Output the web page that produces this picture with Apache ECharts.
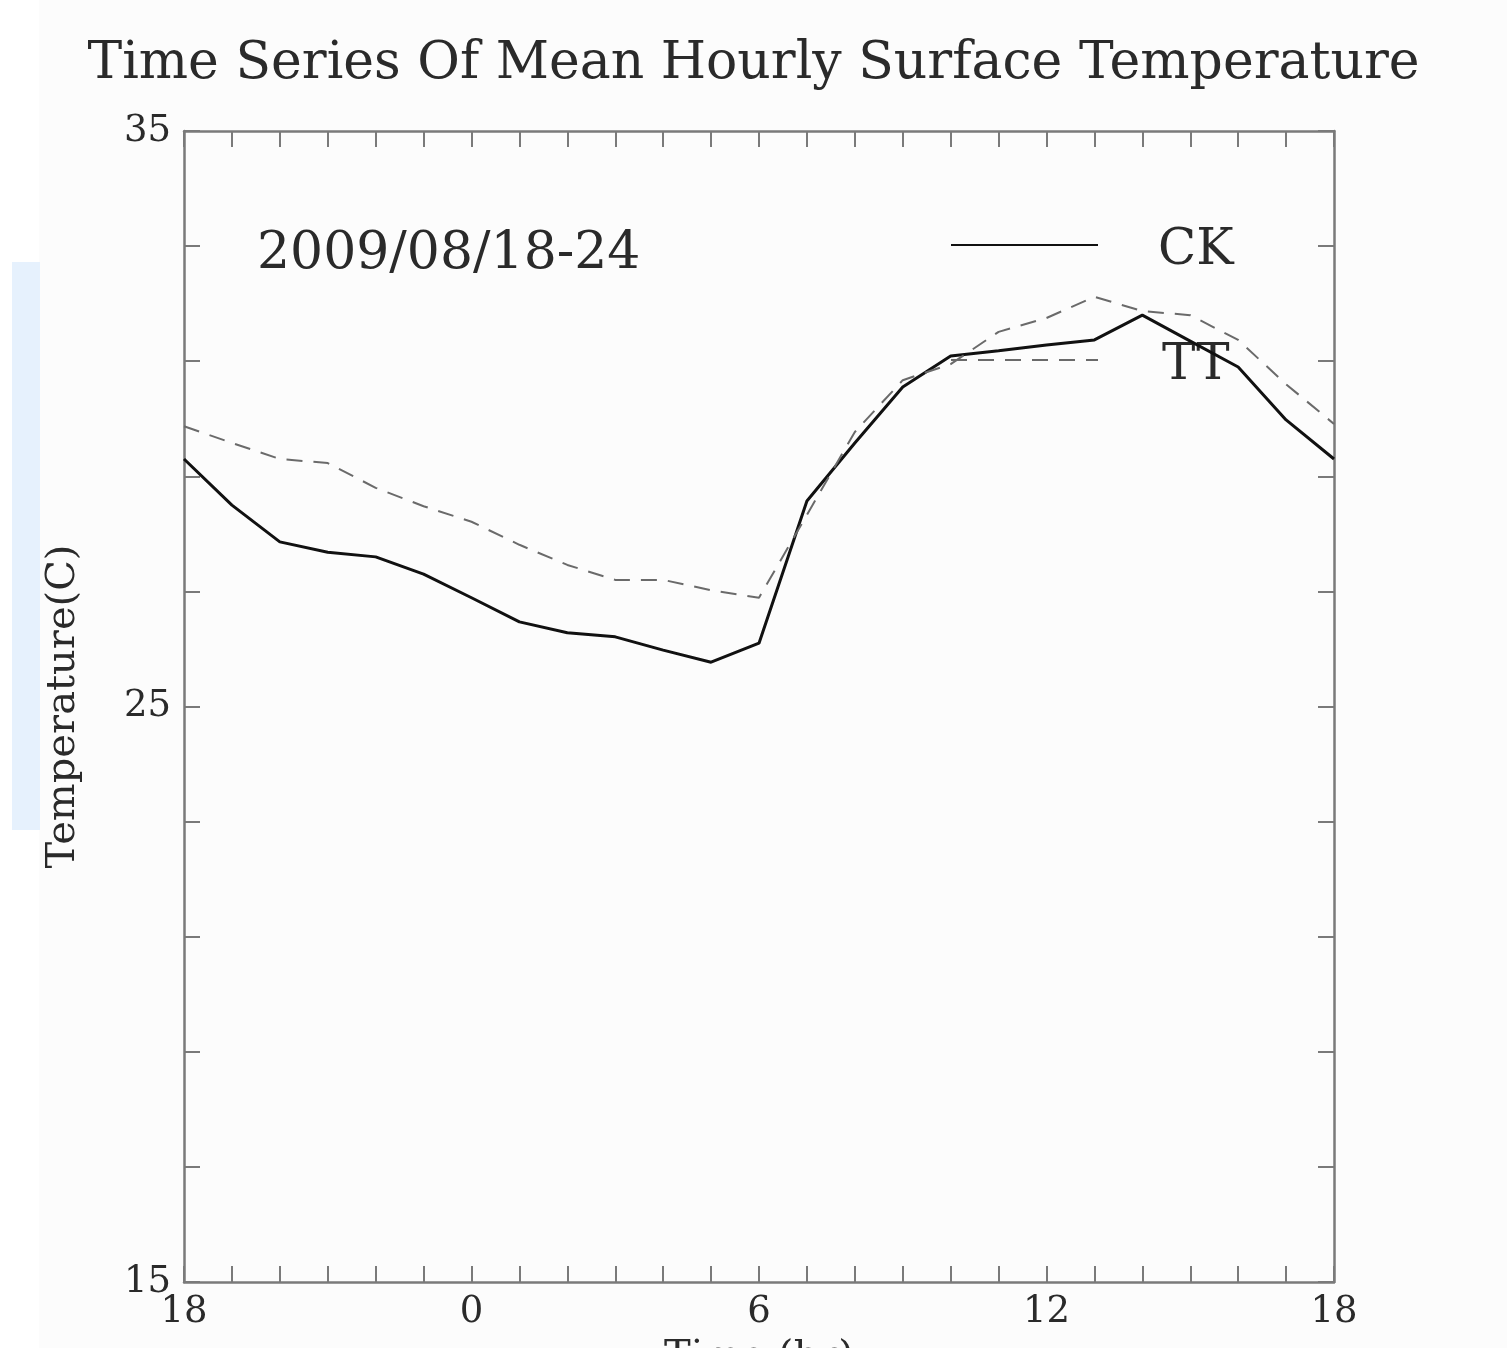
<!DOCTYPE html>
<html>
<head>
<meta charset="utf-8">
<title>Time Series Of Mean Hourly Surface Temperature</title>
<script src="https://cdn.jsdelivr.net/npm/echarts@6/dist/echarts.min.js"></script>
<style>
  html, body { margin: 0; padding: 0; background: #fff; }
  #chart { width: 1507px; height: 1348px; }
</style>
</head>
<body>
<div id="chart"></div>
<script>
// hours from 18 of one day to 18 of the next
const hours = ['18', '19', '20', '21', '22', '23', '0', '1', '2', '3', '4', '5', '6',
  '7', '8', '9', '10', '11', '12', '13', '14', '15', '16', '17', '18'];

// mean hourly surface temperature (C)
const ckTemps = [29.30, 28.50, 27.86, 27.68, 27.60, 27.30, 26.89, 26.47, 26.28, 26.21,
  25.98, 25.77, 26.10, 28.57, 29.58, 30.55, 31.09, 31.18, 31.28, 31.37,
  31.80, 31.35, 30.90, 29.98, 29.30];
const ttTemps = [29.87, 29.58, 29.30, 29.23, 28.80, 28.48, 28.21, 27.81, 27.46, 27.20,
  27.20, 27.02, 26.89, 28.33, 29.77, 30.67, 30.95, 31.51, 31.75, 32.12,
  31.87, 31.80, 31.37, 30.60, 29.91];

// only these y values get a label
const yTickLabels = [15, 25, 35];

const serif = 'DejaVu Serif';
const axisGray = '#7a7a7a';
const textColor = '#2a2a2a';

const chart = echarts.init(document.getElementById('chart'));

const tickStyle = { show: true, inside: true, length: 16, lineStyle: { color: axisGray, width: 2 } };

// legend line sample only; the name is written separately, further right
function legendEntry(name, top) {
  return {
    data: [name],
    left: 950,
    top: top,
    padding: 0,
    itemWidth: 147,
    itemHeight: 60,
    itemStyle: { opacity: 0 },
    formatter: () => ''
  };
}

function label(text, left, top, size) {
  return { type: 'text', left: left, top: top, style: { text: text, font: size + 'px "' + serif + '"', fill: textColor } };
}

const option = {
  backgroundColor: '#fcfcfc',
  animation: false,
  title: {
    text: 'Time Series Of Mean Hourly Surface Temperature',
    left: 'center',
    top: 33,
    textStyle: { fontFamily: serif, fontSize: 52, fontWeight: 'normal', color: textColor }
  },
  grid: { left: 184, right: 173, top: 131, bottom: 66, outerBoundsMode: 'none', containLabel: false },
  legend: [legendEntry('CK', 215), legendEntry('TT', 330)],
  graphic: [
    { type: 'rect', left: 0, top: 0, shape: { width: 39, height: 1348 }, style: { fill: '#ffffff' }, silent: true },
    { type: 'rect', left: 12, top: 262, shape: { width: 28, height: 568 }, style: { fill: '#e6f1fd' }, silent: true },
    label('2009/08/18-24', 257, 228, 52),
    label('CK', 1158, 226, 50),
    label('TT', 1162, 341, 50)
  ],
  xAxis: [
    {
      type: 'category',
      data: hours,
      boundaryGap: false,
      name: 'Time (hr)',
      nameLocation: 'middle',
      nameGap: 56,
      nameTextStyle: { fontFamily: serif, fontSize: 40, color: textColor, verticalAlign: 'top' },
      axisLine: { lineStyle: { color: axisGray, width: 2.5 } },
      axisTick: Object.assign({ interval: 0 }, tickStyle),
      axisLabel: { interval: 5, margin: 12, fontFamily: serif, fontSize: 37, color: textColor },
      splitLine: { show: false }
    },
    {
      type: 'category',
      data: hours,
      position: 'top',
      boundaryGap: false,
      axisLine: { lineStyle: { color: axisGray, width: 2.5 } },
      axisTick: Object.assign({ interval: 0 }, tickStyle),
      axisLabel: { show: false },
      splitLine: { show: false }
    }
  ],
  yAxis: [
    {
      type: 'value',
      min: 15,
      max: 35,
      interval: 2,
      name: 'Temperature(C)',
      nameLocation: 'middle',
      nameGap: 100,
      nameTextStyle: { fontFamily: serif, fontSize: 40, color: textColor },
      axisLine: { show: true, lineStyle: { color: axisGray, width: 2.5 } },
      axisTick: tickStyle,
      axisLabel: {
        margin: 13,
        fontFamily: serif,
        fontSize: 37,
        color: textColor,
        formatter: v => (yTickLabels.indexOf(v) >= 0 ? String(v) : '')
      },
      splitLine: { show: false }
    },
    {
      type: 'value',
      min: 15,
      max: 35,
      interval: 2,
      position: 'right',
      axisLine: { show: true, lineStyle: { color: axisGray, width: 2.5 } },
      axisTick: tickStyle,
      axisLabel: { show: false },
      splitLine: { show: false }
    }
  ],
  series: [
    {
      name: 'CK',
      type: 'line',
      data: ckTemps,
      symbol: 'none',
      lineStyle: { color: '#111', width: 3 },
      itemStyle: { color: '#111' }
    },
    {
      name: 'TT',
      type: 'line',
      data: ttTemps,
      symbol: 'none',
      lineStyle: { color: '#6a6a6a', width: 2, type: [16, 11] },
      itemStyle: { color: '#6a6a6a' }
    }
  ]
};

chart.setOption(option);
</script>
</body>
</html>
